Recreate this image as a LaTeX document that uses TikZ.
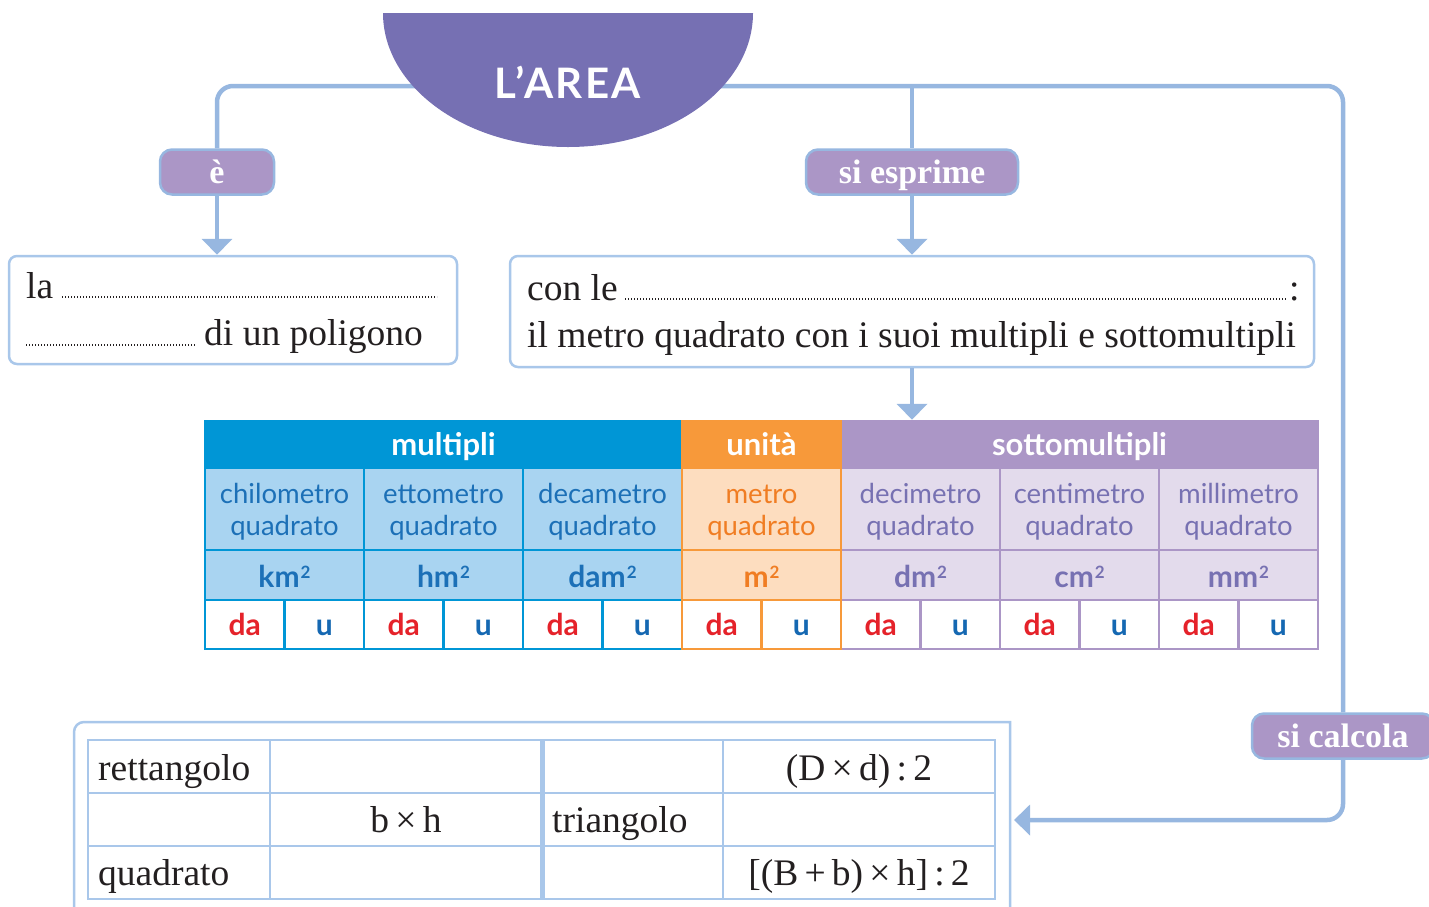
\documentclass[tikz,border=0pt]{standalone}
\usepackage{fontspec}
\setmainfont{Liberation Serif}
\newfontfamily\tabfont{Lato}
\newfontfamily\titlefont[LetterSpace=6]{Lato}
\usetikzlibrary{arrows.meta}
\definecolor{linkblue}{HTML}{97B7E0}
\definecolor{gridblue}{HTML}{A9C7EA}
\definecolor{titlepurple}{HTML}{7670B3}
\definecolor{verbpurple}{HTML}{AB96C6}
\definecolor{ink}{HTML}{231F20}
\definecolor{mhead}{HTML}{0096D6}
\definecolor{mcell}{HTML}{A9D4F1}
\definecolor{mtext}{HTML}{1C70B7}
\definecolor{uhead}{HTML}{F7993A}
\definecolor{ucell}{HTML}{FDDDBF}
\definecolor{utext}{HTML}{F07D23}
\definecolor{shead}{HTML}{AB96C6}
\definecolor{scell}{HTML}{E3DBEC}
\definecolor{stext}{HTML}{7771B2}
\definecolor{dared}{HTML}{E5222A}
\definecolor{ublue}{HTML}{1568B2}
\newcommand\sqr{\kern1pt\raisebox{9pt}{\fontsize{17}{17}\selectfont 2}}
\begin{document}
\begin{tikzpicture}[x=1pt,y=-1pt,
    link/.style={draw=linkblue,line width=4.5pt},
    tip/.style={-{Triangle[width=30pt,length=16pt]}},
    verb/.style={draw=linkblue,line width=2.5pt,fill=verbpurple,rounded corners=12pt,
                 minimum height=45pt,inner sep=0pt,text=white,text height=23pt,text depth=0pt,
                 font=\fontsize{34}{40}\selectfont\bfseries},
    frame/.style={draw=gridblue,line width=2.5pt,rounded corners=8pt,fill=white,inner sep=0pt},
    body/.style={font=\fontsize{37.5}{44}\selectfont,text=ink,inner sep=0pt},
    dots/.style={draw=ink,line width=1.1pt,dash pattern=on .9pt off 2.1pt},
    cell/.style={inner sep=0pt,line width=2.5pt,text height=22pt,text depth=0pt,
                 font=\tabfont\bfseries\fontsize{30}{34}\selectfont},
    word/.style={inner sep=0pt,anchor=base,font=\tabfont\fontsize{27.5}{32}\selectfont},
    head/.style={cell,text=white,minimum height=47pt,text height=21pt,
                 font=\tabfont\bfseries\fontsize{31}{34}\selectfont},
    grid/.style={draw=gridblue,line width=2.5pt}]
 \useasboundingbox (0,0) rectangle (1429,906);
 \coordinate (hub) at (912,86);
 \node[verb,minimum width=114pt] (e) at (217,172) {è};
 \node[verb,minimum width=212pt] (siesp) at (912,172) {si esprime};
 \node[verb,minimum width=182pt] (sicalc) at (1343,736) {si calcola};
 \draw[link,rounded corners=16pt] (e.north) |- (sicalc.north |- hub) -- (sicalc.north);
 \draw[link] (hub) -- (siesp.north);
 \fill[titlepurple] (383,13) arc[start angle=180,end angle=360,x radius=185pt,y radius=134pt] -- cycle;
 \node[text=white,font=\titlefont\bfseries\fontsize{42}{48}\selectfont] (area) at (568,82) {L’AREA};
 \node[frame,minimum width=448pt,minimum height=108pt] (def) at (233,310) {};
 \node[frame,minimum width=804pt,minimum height=111pt] (con) at (912,311.5) {};
 \draw[link,tip] (e.south) -- (e.south |- def.north);
 \draw[link,tip] (siesp.south) -- (siesp.south |- con.north);
 \node[body,anchor=base west] (la) at (26,298) {la};
 \draw[dots] (62,297) -- (437,297);
 \draw[dots] (26,345) -- (195,345);
 \node[body,anchor=base west] (poli) at (204,345) {di un poligono};
 \node[body,anchor=base west] (conle) at (527,300) {con le};
 \draw[dots] (625,299) -- (1287,299);
 \node[body,anchor=base west] at (1289,300) {:};
 \node[body,anchor=base west] (metro) at (527,347) {il metro quadrato con i suoi multipli e sottomultipli};
 \node[head,fill=mhead,draw=mhead,minimum width=477pt] (multipli) at (443.5,444.5) {multipli};
 \node[head,fill=shead,draw=shead,minimum width=477pt] (sotto) at (1079.5,444.5) {sottomultipli};
 \node[head,fill=uhead,draw=uhead,minimum width=159pt] (unita) at (761.5,444.5) {unità};
 \draw[link,tip] (con.south) -- (con.south |- sotto.north);
 \foreach \i/\nm/\un/\grp in {0/chilometro/km/m,1/ettometro/hm/m,2/decametro/dam/m,
                              4/decimetro/dm/s,5/centimetro/cm/s,6/millimetro/mm/s,3/metro/m/u}{
   \node[cell,fill=\grp cell,draw=\grp head,minimum width=159pt,minimum height=82pt]
     (name\i) at ({284.5+159*\i},509) {};
   \node[word,text=\grp text] at ({284.5+159*\i},503) {\nm};
   \node[word,text=\grp text] at ({284.5+159*\i},535) {quadrato};
   \node[cell,fill=\grp cell,draw=\grp head,text=\grp text,minimum width=159pt,minimum height=50pt,
     text height=24pt] (unit\i) at ({284.5+159*\i},575) {\un\sqr};
   \node[cell,fill=white,draw=\grp head,text=dared,minimum width=79.5pt,minimum height=49pt]
     (da\i) at ({244.75+159*\i},624.5) {da};
   \node[cell,fill=white,draw=\grp head,text=ublue,minimum width=79.5pt,minimum height=49pt]
     (u\i) at ({324.25+159*\i},624.5) {u};
 }
 \draw[grid] (74,930) -- (74,732) arc[start angle=180,end angle=90,radius=10pt] -- (1010,722) -- (1010,930);
 \coordinate (formule) at (1014,820);
 \draw[link,tip,rounded corners=16pt] (sicalc.south) |- (formule);
 \draw[grid] (88,740) rectangle (995,899);
 \foreach \y in {793,846} \draw[grid] (88,\y) -- (995,\y);
 \foreach \x in {270,723} \draw[grid] (\x,740) -- (\x,899);
 \draw[grid,line width=5pt] (542,740) -- (542,899);
 \node[body,anchor=base west] (rett) at (98,780) {rettangolo};
 \node[body,anchor=base west] (quad) at (98,885) {quadrato};
 \node[body,anchor=base west] (tri) at (552,832) {triangolo};
 \node[body,anchor=base] (bh) at (406,832) {b\,×\,h};
 \node[body,anchor=base] (rombo) at (859,780) {(D\,×\,d)\,:\,2};
 \node[body,anchor=base] (trap) at (859,885) {[(B\,+\,b)\,×\,h]\,:\,2};
\end{tikzpicture}
\end{document}
